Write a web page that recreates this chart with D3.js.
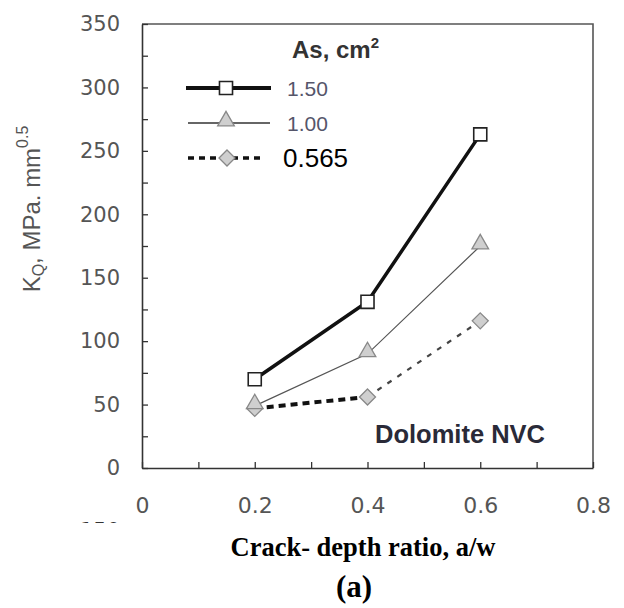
<!DOCTYPE html>
<html>
<head>
<meta charset="utf-8">
<script src="https://cdn.jsdelivr.net/npm/d3@7"></script>
<style>
  html, body { margin: 0; padding: 0; background: #fff; }
  svg { display: block; }
</style>
</head>
<body>
<svg id="chart" width="624" height="608"></svg>
<script>
// Crack-depth ratio values on the x axis
const ratios = [0.2, 0.4, 0.6];
// K_Q values (MPa·mm^0.5) for each steel area As (cm²)
const seriesNames = ["1.50", "1.00", "0.565"];
const kq150 = [70, 131, 263];
const kq100 = [49, 90, 175];
const kq0565 = [47, 56, 116];
// Axis ticks
const yMajorTicks = [0, 50, 100, 150, 200, 250, 300, 350];
const yMinorTicks = [25, 75, 125, 175, 225, 275, 325];
const xMajorTicks = [0, 0.2, 0.4, 0.6, 0.8];
const xMinorTicks = [0.1, 0.3, 0.5, 0.7];

const svg = d3.select("#chart");
const x = d3.scaleLinear().domain([0, 0.8]).range([142, 593]);
const y = d3.scaleLinear().domain([0, 350]).range([468, 24]);

const tickColor = "#555";
const sans = "'Liberation Sans', Arial, sans-serif";
const wide = "'DejaVu Sans', Verdana, sans-serif";

// frame (top and right edges)
svg.append("path")
  .attr("d", `M${x(0)},${y(350)}H${x(0.8)}V${y(0)}`)
  .attr("fill", "none").attr("stroke", "#555").attr("stroke-width", 1.6);

// y axis: labelled majors, inward minor ticks
svg.append("g").attr("class", "yax").attr("transform", `translate(${x(0)},0)`)
  .call(d3.axisLeft(y).tickValues(yMajorTicks).tickSizeInner(-6).tickSizeOuter(0).tickPadding(22));
svg.append("g").attr("transform", `translate(${x(0)},0)`)
  .call(d3.axisLeft(y).tickValues(yMinorTicks).tickFormat("").tickSizeInner(-6).tickSizeOuter(0))
  .select(".domain").remove();

// x axis
svg.append("g").attr("class", "xax").attr("transform", `translate(0,${y(0)})`)
  .call(d3.axisBottom(x).tickValues(xMajorTicks).tickFormat(d => d === 0 ? "0" : d3.format(".1f")(d))
    .tickSizeInner(-6).tickSizeOuter(0).tickPadding(29));
svg.append("g").attr("transform", `translate(0,${y(0)})`)
  .call(d3.axisBottom(x).tickValues(xMinorTicks).tickFormat("").tickSizeInner(-6).tickSizeOuter(0))
  .select(".domain").remove();

svg.selectAll(".domain").attr("stroke", "#333").attr("stroke-width", 1.6);
svg.selectAll(".tick line").attr("stroke", "#333").attr("stroke-width", 1.3);
svg.selectAll(".yax .tick text")
  .attr("font-family", wide).attr("font-size", 21).attr("fill", tickColor);
svg.selectAll(".xax .tick text")
  .attr("font-family", wide).attr("font-size", 22).attr("fill", tickColor);

// top of a clipped label below the x axis
svg.append("clipPath").attr("id", "cut").append("rect")
  .attr("x", 80).attr("y", 517).attr("width", 45).attr("height", 6);
svg.append("text").attr("clip-path", "url(#cut)")
  .attr("x", 120).attr("y", 538).attr("text-anchor", "end")
  .attr("font-family", wide).attr("font-size", 21).attr("fill", "#333")
  .text("150");

// y axis title
const yTitle = svg.append("text")
  .attr("transform", `translate(40,209) rotate(-90)`)
  .attr("text-anchor", "middle")
  .attr("font-family", sans).attr("font-size", 24).attr("fill", tickColor);
yTitle.append("tspan").text("K");
yTitle.append("tspan").attr("font-size", 16).attr("dy", 4).text("Q");
yTitle.append("tspan").attr("dy", -4).text(", MPa. mm");
yTitle.append("tspan").attr("font-size", 16).attr("dy", -12).text("0.5");

// x axis title and panel tag
svg.append("text").attr("x", 363).attr("y", 556).attr("text-anchor", "middle")
  .attr("font-family", "'Liberation Serif', 'Times New Roman', serif")
  .attr("font-weight", "bold").attr("font-size", 26.5).attr("fill", "#000")
  .text("Crack- depth ratio, a/w");
svg.append("text").attr("x", 354).attr("y", 597).attr("text-anchor", "middle")
  .attr("font-family", "'Liberation Serif', 'Times New Roman', serif")
  .attr("font-weight", "bold").attr("font-size", 31).attr("fill", "#000")
  .text("(a)");

// series drawing
const line = d3.line().x(d => x(d[0])).y(d => y(d[1]));
const pts = vals => ratios.map((r, i) => [r, vals[i]]);

const squareSym = d3.symbol().type(d3.symbolSquare).size(170);
const triSym = d3.symbol().type(d3.symbolTriangle).size(120);
const diamondPath = s => `M0,${-s}L${s},0L0,${s}L${-s},0Z`;

// 0.565: bold dashes on the first segment, lighter finer dashes beyond
const p0565 = pts(kq0565);
p0565.slice(1).forEach((p, i) => {
  const first = i === 0;
  svg.append("path").attr("d", line([p0565[i], p]))
    .attr("fill", "none")
    .attr("stroke", first ? "#111" : "#444")
    .attr("stroke-width", first ? 4 : 2.2)
    .attr("stroke-dasharray", first ? "7,5" : "5,7");
});

// 1.00: thin grey line
svg.append("path").attr("d", line(pts(kq100)))
  .attr("fill", "none").attr("stroke", "#555").attr("stroke-width", 1.2);

// 1.50: heavy black line
svg.append("path").attr("d", line(pts(kq150)))
  .attr("fill", "none").attr("stroke", "#111").attr("stroke-width", 3.5);

// markers
svg.selectAll(".dia").data(p0565).enter().append("path")
  .attr("transform", d => `translate(${x(d[0])},${y(d[1])})`)
  .attr("d", diamondPath(8))
  .attr("fill", "#cfcfcf").attr("stroke", "#888").attr("stroke-width", 1.3);
svg.selectAll(".tri").data(pts(kq100)).enter().append("path")
  .attr("transform", d => `translate(${x(d[0])},${y(d[1]) - 2})`)
  .attr("d", triSym())
  .attr("fill", "#cfcfcf").attr("stroke", "#888").attr("stroke-width", 1.3);
svg.selectAll(".sq").data(pts(kq150)).enter().append("path")
  .attr("transform", d => `translate(${x(d[0])},${y(d[1])})`)
  .attr("d", squareSym())
  .attr("fill", "#fff").attr("stroke", "#222").attr("stroke-width", 1.6);

// legend
const lg = svg.append("g");
const title = lg.append("text").attr("x", 292).attr("y", 58)
  .attr("font-family", sans).attr("font-weight", "bold").attr("font-size", 24).attr("fill", "#333");
title.append("tspan").text("As, cm");
title.append("tspan").attr("font-size", 15).attr("dy", -10).text("2");

const rowY = [88, 123, 158];
// row 1
lg.append("line").attr("x1", 186).attr("x2", 271).attr("y1", rowY[0]).attr("y2", rowY[0])
  .attr("stroke", "#111").attr("stroke-width", 4);
lg.append("path").attr("transform", `translate(226,${rowY[0]})`).attr("d", squareSym())
  .attr("fill", "#fff").attr("stroke", "#222").attr("stroke-width", 1.6);
// row 2
lg.append("line").attr("x1", 188).attr("x2", 270).attr("y1", rowY[1]).attr("y2", rowY[1])
  .attr("stroke", "#333").attr("stroke-width", 1.3);
lg.append("path").attr("transform", `translate(226,${rowY[1] - 2})`).attr("d", triSym())
  .attr("fill", "#cfcfcf").attr("stroke", "#888").attr("stroke-width", 1.3);
// row 3
lg.append("line").attr("x1", 188).attr("x2", 264).attr("y1", rowY[2]).attr("y2", rowY[2])
  .attr("stroke", "#111").attr("stroke-width", 3.5).attr("stroke-dasharray", "6,5");
lg.append("path").attr("transform", `translate(227,${rowY[2]})`).attr("d", diamondPath(8))
  .attr("fill", "#cfcfcf").attr("stroke", "#888").attr("stroke-width", 1.3);

lg.append("text").attr("x", 287).attr("y", rowY[0] + 7.5)
  .attr("font-family", sans).attr("font-size", 21).attr("fill", "#55556a").text(seriesNames[0]);
lg.append("text").attr("x", 287).attr("y", rowY[1] + 7.5)
  .attr("font-family", sans).attr("font-size", 21).attr("fill", "#55556a").text(seriesNames[1]);
lg.append("text").attr("x", 283).attr("y", rowY[2] + 9)
  .attr("font-family", sans).attr("font-size", 26).attr("fill", "#000").text(seriesNames[2]);

// material note
svg.append("text").attr("x", 375).attr("y", 443)
  .attr("font-family", sans).attr("font-weight", "bold").attr("font-size", 25.5).attr("fill", "#2a2a38")
  .text("Dolomite NVC");
</script>
</body>
</html>
